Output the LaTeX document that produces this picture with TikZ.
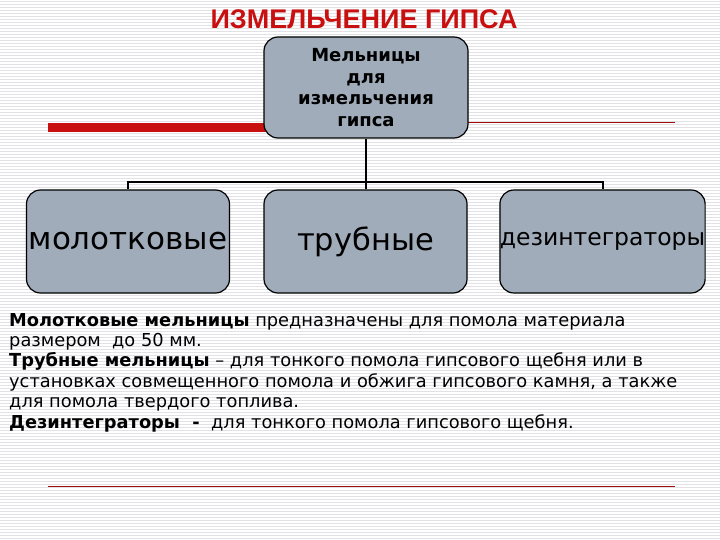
\documentclass[tikz,border=0pt]{standalone}
\usepackage{fontspec}
\setmainfont{DejaVu Sans}
\newfontfamily\arialf{Liberation Sans}
\definecolor{boxgray}{RGB}{160,172,186}
\definecolor{ttlred}{RGB}{200,16,16}
\definecolor{stripe}{RGB}{226,226,230}
\tikzset{
  catbox/.style={draw=black,line width=1.2pt,fill=boxgray,rounded corners=14pt,minimum width=203pt,minimum height=103pt,inner sep=0pt},
  conn/.style={line width=2pt,black},
  body/.style={anchor=base west,inner sep=0pt,font=\fontsize{17.8}{20}\selectfont}
}
\begin{document}
\begin{tikzpicture}[x=1pt,y=-1pt]
\useasboundingbox (0,0) rectangle (720,540);
\fill[white] (0,0) rectangle (720,540);
\foreach \i in {0,...,179} {\draw[stripe,line width=0.8pt] (0,\i*3+1.5) -- (720,\i*3+1.5);}
\node[font=\arialf\bfseries\fontsize{27}{29}\selectfont,text=ttlred] (title) at (364,19) {ИЗМЕЛЬЧЕНИЕ ГИПСА};
\fill[ttlred] (48,123) rectangle (266,132);
\draw[ttlred!80!black,line width=1pt] (468,123) -- (675,123);
\draw[ttlred!80!black,line width=0.8pt] (48,486) -- (675,486);
\node[catbox,minimum width=204pt,minimum height=101pt,align=center,font=\bfseries\fontsize{18}{21.5}\selectfont] (top) at (366,87.5) {Мельницы\\для\\измельчения\\гипса};
\node[catbox,font=\fontsize{31}{33}\selectfont] (b1) at (128,241.5) {молотковые};
\node[catbox,font=\fontsize{30.5}{33}\selectfont] (b2) at (365.5,241.5) {трубные};
\node[catbox,minimum width=205pt,font=\fontsize{23.5}{26}\selectfont] (b3) at (602.5,241.5) {дезинтеграторы};
\coordinate (j) at (366,182);
\draw[conn] (top.south) -- (j);
\draw[conn] (b1.north) -- (b1.north |- j) -- (b3.north |- j) -- (b3.north);
\draw[conn] (b2.north) -- (b2.north |- j);
\node[body] (t1) at (9,326) {\textbf{Молотковые мельницы} предназначены для помола материала};
\node[body] (t2) at (9,346) {размером\ \ до 50 мм.};
\node[body] (t3) at (9,366) {\textbf{Трубные мельницы} – для тонкого помола гипсового щебня или в};
\node[body] (t4) at (9,387) {установках совмещенного помола и обжига гипсового камня, а также};
\node[body] (t5) at (9,407) {для помола твердого топлива.};
\node[body] (t6) at (9,428) {\textbf{Дезинтеграторы\ \ -}\ \ для тонкого помола гипсового щебня.};
\end{tikzpicture}
\end{document}
